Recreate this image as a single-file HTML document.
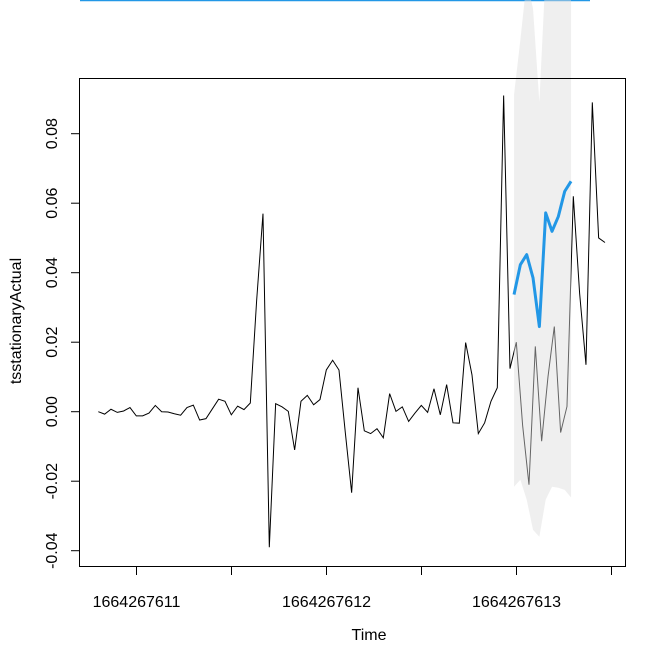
<!DOCTYPE html>
<html><head><meta charset="utf-8"><style>
html,body{margin:0;padding:0;background:#fff;}
svg{display:block;font-family:"Liberation Sans",Arial,sans-serif;}
</style></head><body>
<svg id="chart" width="664" height="664" viewBox="0 0 664 664">
<line x1="80" y1="0.5" x2="590" y2="0.5" stroke="#2297E6" stroke-width="1.5"/>
<g id="band"></g>
<g id="series"></g>
<rect x="79.5" y="78.5" width="546" height="488" fill="none" stroke="#000" stroke-width="1"/>
<g id="axes"></g>
<text x="369" y="640" font-size="16" text-anchor="middle">Time</text>
<text transform="translate(21,321) rotate(-90)" font-size="16" text-anchor="middle">tsstationaryActual</text>
</svg>
<script>
const actualStart = 610.799;
const step = 1/30;
const actualValues = [0.000,-0.0007,0.0007,-0.0002,0.0002,0.0012,-0.0012,-0.0012,-0.0004,0.0018,0.000,-0.0001,-0.0006,-0.001,0.0012,0.0019,-0.0024,-0.002,0.0008,0.0036,0.003,-0.0009,0.0016,0.0006,0.0025,0.032,0.057,-0.039,0.0023,0.0014,0.0001,-0.011,0.003,0.0047,0.002,0.0035,0.012,0.0148,0.012,-0.006,-0.0233,0.0069,-0.0055,-0.0063,-0.0049,-0.0075,0.0052,0.0001,0.0014,-0.0028,-0.0004,0.0018,-0.0002,0.0066,-0.0009,0.0078,-0.0032,-0.0033,0.0199,0.0106,-0.0063,-0.0032,0.003,0.0069,0.091,0.0124,0.020,-0.004,-0.021,0.0188,-0.0085,0.010,0.0245,-0.006,0.0015,0.062,0.034,0.0135,0.089,0.050,0.0487];
const forecastStart = 612.987;
const forecastValues = [0.0337,0.0423,0.0452,0.0385,0.0245,0.0572,0.0519,0.0562,0.0634,0.0663];
const upperValues = [0.0912,0.107,0.124,0.116,0.089,0.127,0.13,0.13,0.13,0.13];
const lowerValues = [-0.0216,-0.0196,-0.0253,-0.034,-0.036,-0.0253,-0.0216,-0.0219,-0.0225,-0.0247];
const xTicks = [611,611.5,612,612.5,613,613.5];
const xTickLabels = ["1664267611","","1664267612","","1664267613",""];
const yTicks = [-0.04,-0.02,0,0.02,0.04,0.06,0.08];
const yTickLabels = ["-0.04","-0.02","0.00","0.02","0.04","0.06","0.08"];

const NS="http://www.w3.org/2000/svg";
const xs = t => 136.5 + (t-611)*190;
const ys = v => 411.7 - v*3475;
function mk(tag, attrs, parent){const e=document.createElementNS(NS,tag);for(const k in attrs)e.setAttribute(k,attrs[k]);parent.appendChild(e);return e;}

const series=document.getElementById('series');
const band=document.getElementById('band');
const axes=document.getElementById('axes');

const apts = actualValues.map((v,i)=>xs(actualStart+i*step).toFixed(2)+','+ys(v).toFixed(2)).join(' ');
const aline = mk('polyline',{points:apts,fill:'none',stroke:'#000','stroke-width':1},series);



const up = upperValues.map((v,i)=>xs(forecastStart+i*step).toFixed(2)+','+ys(v).toFixed(2));
const lo = lowerValues.map((v,i)=>xs(forecastStart+i*step).toFixed(2)+','+ys(v).toFixed(2)).reverse();
const poly = mk('polygon',{points:up.concat(lo).join(' '),fill:'rgb(220,220,220)','fill-opacity':0.46},series);



const fpts = forecastValues.map((v,i)=>xs(forecastStart+i*step).toFixed(2)+','+ys(v).toFixed(2)).join(' ');
const fline = mk('polyline',{points:fpts,fill:'none',stroke:'#2297E6','stroke-width':3,'stroke-linejoin':'round'},series);



// x axis
xTicks.forEach((t,i)=>{
  const x=xs(t);
  const tk=mk('line',{x1:x,y1:567,x2:x,y2:575,stroke:'#000'},axes);
  
  
  if(xTickLabels[i]){
    const tx=mk('text',{x:x,y:607,'font-size':16,'text-anchor':'middle'},axes);
    tx.textContent=xTickLabels[i];
    
    
  }
});
// y axis
yTicks.forEach((v,i)=>{
  const y=ys(v);
  const tk=mk('line',{x1:71,y1:y,x2:79.5,y2:y,stroke:'#000'},axes);
  
  
  const tx=mk('text',{transform:`translate(57,${y}) rotate(-90)`,'font-size':16,'text-anchor':'middle'},axes);
  tx.textContent=yTickLabels[i];
  
  
});
</script>
</body></html>
